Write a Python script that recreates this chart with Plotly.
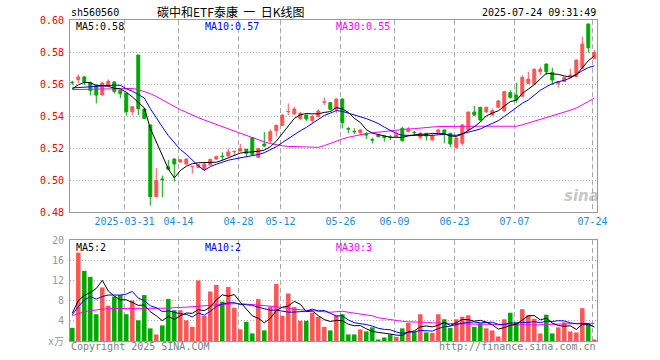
import pandas as pd
import plotly.graph_objects as go

# ---------------- data ----------------
opens = [0.5610, 0.5627, 0.5644, 0.5608, 0.5592, 0.5531, 0.5592, 0.5613, 0.5560, 0.5542,
         0.5427, 0.5781, 0.5444, 0.5344, 0.4896, 0.5006, 0.5083, 0.5131, 0.5112, 0.5100,
         0.5083, 0.5079, 0.5065, 0.5094, 0.5131, 0.5148, 0.5150, 0.5177, 0.5181, 0.5192,
         0.5265, 0.5142, 0.5225, 0.5244, 0.5308, 0.5342, 0.5427, 0.5413, 0.5383, 0.5406,
         0.5371, 0.5396, 0.5485, 0.5483, 0.5442, 0.5506, 0.5321, 0.5304, 0.5296, 0.5290,
         0.5252, 0.5281, 0.5275, 0.5269, 0.5271, 0.5323, 0.5302, 0.5298, 0.5267, 0.5292,
         0.5250, 0.5298, 0.5313, 0.5292, 0.5204, 0.5229, 0.5313, 0.5425, 0.5454, 0.5425,
         0.5406, 0.5454, 0.5433, 0.5546, 0.5531, 0.5523, 0.5604, 0.5600, 0.5677, 0.5725,
         0.5673, 0.5604, 0.5615, 0.5646, 0.5646, 0.5698, 0.5975, 0.5760]
highs = [0.5620, 0.5660, 0.5650, 0.5615, 0.5598, 0.5612, 0.5629, 0.5617, 0.5563, 0.5546,
         0.5463, 0.5781, 0.5450, 0.5344, 0.5075, 0.5027, 0.5125, 0.5135, 0.5131, 0.5135,
         0.5085, 0.5100, 0.5104, 0.5133, 0.5152, 0.5173, 0.5196, 0.5179, 0.5225, 0.5194,
         0.5267, 0.5202, 0.5300, 0.5317, 0.5346, 0.5410, 0.5479, 0.5458, 0.5427, 0.5408,
         0.5406, 0.5442, 0.5515, 0.5485, 0.5510, 0.5510, 0.5333, 0.5323, 0.5315, 0.5302,
         0.5265, 0.5288, 0.5277, 0.5281, 0.5302, 0.5333, 0.5333, 0.5306, 0.5302, 0.5294,
         0.5288, 0.5317, 0.5315, 0.5294, 0.5267, 0.5348, 0.5427, 0.5463, 0.5458, 0.5458,
         0.5448, 0.5500, 0.5558, 0.5560, 0.5608, 0.5654, 0.5677, 0.5698, 0.5708, 0.5727,
         0.5702, 0.5617, 0.5644, 0.5694, 0.5752, 0.5896, 0.5977, 0.5813]
lows = [0.5596, 0.5606, 0.5594, 0.5529, 0.5479, 0.5531, 0.5588, 0.5540, 0.5510, 0.5402,
        0.5406, 0.5406, 0.5380, 0.4840, 0.4892, 0.4892, 0.5067, 0.4990, 0.5108, 0.5096,
        0.5040, 0.5077, 0.5060, 0.5092, 0.5125, 0.5121, 0.5148, 0.5156, 0.5179, 0.5142,
        0.5156, 0.5138, 0.5208, 0.5229, 0.5271, 0.5338, 0.5406, 0.5406, 0.5375, 0.5369,
        0.5358, 0.5392, 0.5469, 0.5435, 0.5417, 0.5323, 0.5292, 0.5288, 0.5279, 0.5256,
        0.5229, 0.5267, 0.5240, 0.5250, 0.5269, 0.5240, 0.5300, 0.5275, 0.5254, 0.5246,
        0.5246, 0.5296, 0.5229, 0.5204, 0.5194, 0.5213, 0.5310, 0.5400, 0.5370, 0.5420,
        0.5404, 0.5450, 0.5427, 0.5510, 0.5483, 0.5521, 0.5600, 0.5598, 0.5656, 0.5656,
        0.5594, 0.5577, 0.5613, 0.5644, 0.5644, 0.5692, 0.5796, 0.5756]
closes = [0.5608, 0.5644, 0.5613, 0.5560, 0.5531, 0.5606, 0.5617, 0.5554, 0.5540, 0.5427,
          0.5458, 0.5446, 0.5385, 0.4896, 0.4996, 0.5004, 0.5067, 0.5100, 0.5127, 0.5131,
          0.5085, 0.5096, 0.5100, 0.5129, 0.5146, 0.5146, 0.5175, 0.5179, 0.5196, 0.5167,
          0.5160, 0.5196, 0.5213, 0.5302, 0.5342, 0.5406, 0.5429, 0.5444, 0.5417, 0.5381,
          0.5396, 0.5431, 0.5487, 0.5442, 0.5506, 0.5358, 0.5319, 0.5302, 0.5313, 0.5281,
          0.5250, 0.5271, 0.5265, 0.5267, 0.5281, 0.5246, 0.5319, 0.5296, 0.5292, 0.5275,
          0.5275, 0.5313, 0.5288, 0.5225, 0.5263, 0.5344, 0.5425, 0.5406, 0.5375, 0.5454,
          0.5433, 0.5494, 0.5552, 0.5515, 0.5500, 0.5642, 0.5631, 0.5692, 0.5692, 0.5677,
          0.5625, 0.5615, 0.5642, 0.5656, 0.5750, 0.5850, 0.5827, 0.5798]
# volume in 万 (10k) units
volumes = [2.6, 17.5, 13.9, 12.7, 5.3, 10.6, 7.0, 8.8, 9.1, 5.3,
           8.0, 4.1, 9.1, 2.5, 1.3, 3.1, 8.3, 6.1, 6.1, 4.1,
           2.8, 12.0, 5.0, 9.8, 11.1, 7.8, 10.7, 6.6, 2.3, 3.8,
           1.5, 8.3, 2.1, 6.8, 11.3, 5.0, 9.4, 6.7, 4.0, 4.0,
           5.6, 4.8, 2.8, 2.1, 5.1, 5.3, 1.3, 1.3, 2.3, 1.9,
           2.7, 0.3, 0.7, 1.3, 0.8, 2.5, 3.6, 1.8, 5.3, 1.7,
           1.6, 5.3, 4.3, 2.6, 4.3, 4.8, 5.1, 2.8, 3.5, 2.5,
           2.1, 0.9, 4.3, 5.6, 3.7, 6.3, 5.1, 4.4, 1.5, 5.2,
           1.5, 2.7, 3.7, 1.9, 1.7, 6.5, 3.3, 0.3]

price_ma5_head = [0.5570, 0.5595, 0.5610, 0.5608]
price_ma10_head = [0.5575, 0.5578, 0.5581, 0.5584, 0.5587, 0.5589, 0.5591, 0.5593, 0.5592]
price_ma30 = [0.5565, 0.5566, 0.5567, 0.5568, 0.5569, 0.5570, 0.5572, 0.5573, 0.5573, 0.5573,
              0.5572, 0.5565, 0.5553, 0.5540, 0.5522, 0.5500, 0.5480, 0.5460, 0.5440, 0.5422,
              0.5406, 0.5390, 0.5375, 0.5360, 0.5348, 0.5335, 0.5320, 0.5306, 0.5292, 0.5278,
              0.5264, 0.5250, 0.5238, 0.5228, 0.5220, 0.5214, 0.5210, 0.5208, 0.5207, 0.5206,
              0.5205, 0.5204, 0.5215, 0.5230, 0.5244, 0.5256, 0.5267, 0.5276, 0.5284, 0.5290,
              0.5295, 0.5299, 0.5304, 0.5310, 0.5314, 0.5317, 0.5319, 0.5321, 0.5323, 0.5327,
              0.5331, 0.5334, 0.5335, 0.5335, 0.5335, 0.5335, 0.5336, 0.5336, 0.5336, 0.5336,
              0.5336, 0.5336, 0.5336, 0.5336, 0.5336, 0.5345, 0.5356, 0.5367, 0.5378, 0.5389,
              0.5400, 0.5411, 0.5423, 0.5436, 0.5450, 0.5468, 0.5490, 0.5512]
vol_ma5_head = [5.5, 8.0, 9.0, 9.6]
vol_ma10_head = [5.2, 6.8, 8.1, 8.8, 8.3, 8.8, 9.1, 9.1, 9.1]
vol_ma30 = [5.0, 5.4, 5.8, 6.0, 6.2, 6.3, 6.4, 6.4, 6.4, 6.4,
            6.4, 6.4, 6.4, 6.4, 6.5, 6.5, 6.5, 6.6, 6.6, 6.7,
            6.8, 6.9, 7.0, 7.1, 7.2, 7.3, 7.4, 7.4, 7.4, 7.3,
            7.3, 7.2, 7.1, 6.9, 6.8, 6.6, 6.4, 6.3, 6.2, 6.1,
            6.0, 5.9, 5.8, 5.7, 5.8, 5.9, 5.7, 5.5, 5.3, 5.2,
            5.0, 4.6, 4.4, 4.2, 4.1, 3.9, 3.8, 3.8, 3.7, 3.7,
            3.6, 3.6, 3.5, 3.5, 3.4, 3.4, 3.3, 3.3, 3.3, 3.3,
            3.3, 3.2, 3.2, 3.2, 3.1, 3.1, 3.1, 3.2, 3.2, 3.3,
            3.3, 3.4, 3.4, 3.4, 3.5, 3.5, 3.5, 3.5]

tick_idx = [9, 18, 28, 35, 45, 54, 64, 74, 87]
tick_labels = ["2025-03-31", "04-14", "04-28", "05-12", "05-26", "06-09", "06-23", "07-07", "07-24"]
price_ticks = [0.48, 0.50, 0.52, 0.54, 0.56, 0.58, 0.60]
vol_ticks = [0, 4, 8, 12, 16, 20]

code = "sh560560"
title = "碳中和ETF泰康\u00a0\u00a0一\u00a0\u00a0日K线图"
stamp = "2025-07-24 09:31:49"

# ---------------- styling ----------------
W, H = 660, 360
RED = "#FF5555"
GREEN = "#00A800"
BLUE = "#0000FF"
MAG = "#FF00FF"
GRID = "#AAAAAA"
BORDER = "#999999"
MONO = "DejaVu Sans Mono, Noto Sans CJK SC, monospace"
CJK = "Noto Sans CJK SC, sans-serif"

X0, X1 = 70, 597
PY0, PY1 = 20, 212
VY0, VY1 = 240, 341


def px(x):
    return x / W


def py(y):
    return 1 - y / H


def rolling(vals, w, head):
    s = pd.Series(vals, dtype=float).rolling(w).mean().tolist()
    return list(head) + s[len(head):]


n = len(closes)
idx = list(range(n))
ma5 = rolling(closes, 5, price_ma5_head)
ma10 = rolling(closes, 10, price_ma10_head)
vma5 = rolling(volumes, 5, vol_ma5_head)
vma10 = rolling(volumes, 10, vol_ma10_head)
bar_colors = [RED if c >= o else GREEN for o, c in zip(opens, closes)]

xr = [(X0 - 72.3) / 6.0, (X1 - 72.3) / 6.0]
grid_x = [i - 0.3 for i in tick_idx]

fig = go.Figure()
fig.add_trace(go.Candlestick(
    x=idx, open=opens, high=highs, low=lows, close=closes,
    increasing=dict(line=dict(color=RED, width=1), fillcolor=RED),
    decreasing=dict(line=dict(color=GREEN, width=1), fillcolor=GREEN),
    whiskerwidth=0, xaxis="x", yaxis="y", showlegend=False, hoverinfo="skip"))
for vals, col in [(price_ma30, MAG), (ma10, BLUE), (ma5, "#000000")]:
    fig.add_trace(go.Scatter(x=idx, y=vals, mode="lines", line=dict(color=col, width=1),
                             xaxis="x", yaxis="y", showlegend=False, hoverinfo="skip"))

fig.add_trace(go.Bar(x=idx, y=volumes, marker=dict(color=bar_colors, line=dict(width=0)),
                     width=0.75, xaxis="x2", yaxis="y2", showlegend=False, hoverinfo="skip"))
for vals, col in [(vol_ma30, MAG), (vma10, BLUE), (vma5, "#000000")]:
    fig.add_trace(go.Scatter(x=idx, y=vals, mode="lines", line=dict(color=col, width=1),
                             xaxis="x2", yaxis="y2", showlegend=False, hoverinfo="skip"))

common_x = dict(domain=[px(X0), px(X1)], range=xr, tickmode="array", tickvals=grid_x,
                showgrid=True, gridcolor=GRID, griddash="5px,3px", gridwidth=1,
                showline=True, mirror=True, linecolor=BORDER, linewidth=1,
                zeroline=False, ticks="", fixedrange=True, automargin=False)
fig.update_layout(
    width=W, height=H, margin=dict(l=0, r=0, t=0, b=0, autoexpand=False),
    paper_bgcolor="white", plot_bgcolor="white", showlegend=False,
    xaxis=dict(**common_x, anchor="y", ticktext=tick_labels,
               tickfont=dict(family=MONO, size=10, color="#1A8CDC"),
               rangeslider=dict(visible=False)),
    xaxis2=dict(**common_x, anchor="y2", showticklabels=False),
    yaxis=dict(domain=[py(PY1), py(PY0)], range=[price_ticks[0], price_ticks[-1]], anchor="x",
               tickmode="array", tickvals=price_ticks, ticktext=[f"{v:.2f}" for v in price_ticks],
               tickfont=dict(family=MONO, size=10, color="#EE0000"),
               showgrid=True, gridcolor=GRID, griddash="1px,2px",
               showline=True, mirror=True, linecolor=BORDER, linewidth=1,
               zeroline=False, ticks="", ticklabelstandoff=3, automargin=False,
               fixedrange=True),
    yaxis2=dict(domain=[py(VY1), py(VY0)], range=[vol_ticks[0], vol_ticks[-1]], anchor="x2",
                tickmode="array", tickvals=vol_ticks,
                ticktext=["x万"] + [str(v) for v in vol_ticks[1:]],
                tickfont=dict(family=MONO, size=10, color="#999999"),
                showgrid=True, gridcolor=GRID, griddash="1px,2px",
                showline=True, mirror=True, linecolor=BORDER, linewidth=1,
                zeroline=False, ticks="", ticklabelstandoff=3, automargin=False,
                fixedrange=True),
    bargap=0.25,
)


def note(text, x, y, anchor="left", color="#000000", size=10, family=MONO):
    fig.add_annotation(text=text, x=px(x), y=py(y), xref="paper", yref="paper",
                       xanchor=anchor, yanchor="middle", showarrow=False,
                       font=dict(family=family, size=size, color=color))


def trunc(v):
    return str(int(v))


note(code, 69, 13)
note(title, 230, 12, anchor="center", size=12, family=CJK)
note(stamp, 598, 13, anchor="right")
note(f"MA5:{ma5[-1]:.2f}", 74, 27)
note(f"MA10:{ma10[-1]:.2f}", 203, 27, color=BLUE)
note(f"MA30:{price_ma30[-1]:.2f}", 334, 27, color=MAG)
note("MA5:" + trunc(vma5[-1]), 74, 247)
note("MA10:" + trunc(vma10[-1]), 203, 247, color=BLUE)
note("MA30:" + trunc(vol_ma30[-1]), 334, 247, color=MAG)
note("Copyright 2025 SINA.COM", 69, 346, color="#808080")
note("http://finance.sina.com.cn", 598, 346, anchor="right", color="#808080")
fig.add_annotation(text="<b><i>sina</i></b>", x=px(581), y=py(196), xref="paper", yref="paper",
                   xanchor="center", yanchor="middle", showarrow=False,
                   font=dict(family="DejaVu Sans, sans-serif", size=15, color="rgba(150,150,150,0.55)"))

fig.write_html("out.html", config={"displayModeBar": False, "staticPlot": True},
               post_script="document.body.style.margin='0';document.body.style.overflow='hidden';")
